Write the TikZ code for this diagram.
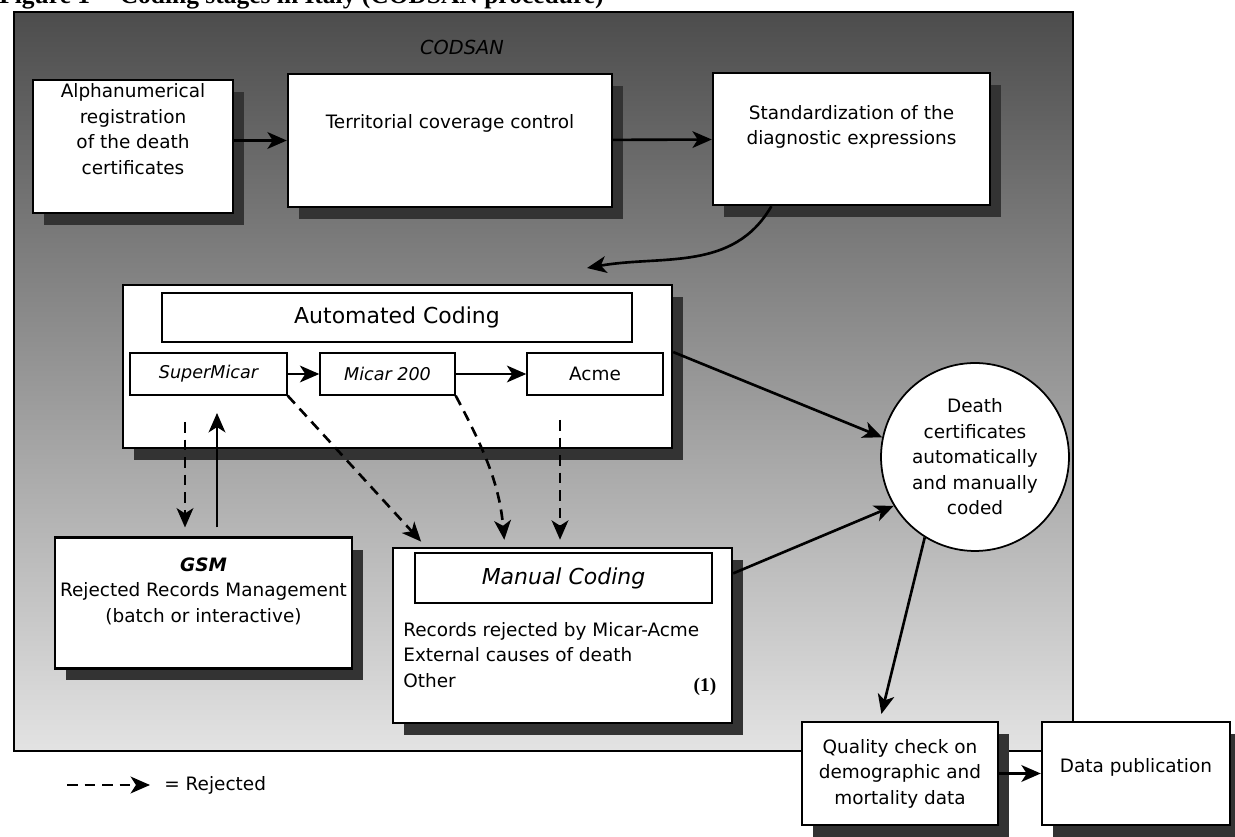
\documentclass[tikz,border=0pt]{standalone}
\usepackage{fontspec}
\setmainfont{DejaVu Sans}
\newfontfamily\capfont{Liberation Serif}
\usetikzlibrary{arrows.meta,shadows}

\tikzset{
  stage/.style={draw, line width=1.4pt, fill=white, align=center, inner sep=2pt,
    drop shadow={shadow xshift=0.22cm, shadow yshift=-0.24cm, fill=black!80, opacity=1}},
  banner/.style={draw, line width=1.4pt, fill=white, font=\fontsize{12.5}{15}\selectfont},
  prog/.style={draw, line width=0.8pt, fill=white, inner sep=2pt},
  flow/.style={->, line width=1.5pt},
  reject/.style={->, line width=1.5pt, dash pattern=on 6pt off 4pt},
}

\begin{document}
\begin{tikzpicture}[x=0.02cm, y=0.02cm, >={Stealth[length=11pt, width=9.5pt, inset=3pt]},
    font=\fontsize{10.5}{14.5}\selectfont]
\path[use as bounding box, fill=white] (0,0) rectangle (1235,-837);
% caption, cut by the top edge
\node[anchor=base west, inner sep=0, font=\capfont\bfseries\fontsize{14.5}{16}\selectfont] (caption) at (-1,-4)
  {Figure 1 -- Coding stages in Italy (CODSAN procedure)};

% CODSAN frame
\draw[line width=1.4pt, top color=black!70, bottom color=black!11] (14,-12) rectangle (1073,-751);
\node[font=\itshape\fontsize{11}{13}\selectfont] (codsan) at (462,-47) {CODSAN};

% first row
\node[stage, minimum width=4cm, minimum height=2.66cm, text depth=0.7cm] (alpha) at (133,-146.5)
  {Alphanumerical\\registration\\of the death\\certificates};
\node[stage, minimum width=6.48cm, minimum height=2.66cm, text depth=0.76cm] (terr) at (450,-140.5)
  {Territorial coverage control};
\node[stage, minimum width=5.54cm, minimum height=2.64cm, text depth=0.57cm] (std) at (851.5,-139)
  {Standardization of the\\diagnostic expressions};

% automated coding
\node[stage, minimum width=10.98cm, minimum height=3.26cm] (auto) at (397.5,-366.5) {};
\node[banner, minimum width=9.4cm, minimum height=0.98cm] (autotitle) at (397,-317.5) {Automated Coding};
\node[prog, minimum width=3.14cm, minimum height=0.84cm, font=\itshape] (smicar) at (208.5,-374) {SuperMicar};
\node[prog, minimum width=2.7cm, minimum height=0.84cm, font=\itshape] (micar) at (387.5,-374) {Micar 200};
\node[prog, minimum width=2.72cm, minimum height=0.84cm] (acme) at (595,-374) {Acme};

% rejected records and manual coding
\node[stage, minimum width=5.94cm, minimum height=2.62cm, text depth=0.53cm] (gsm) at (203.5,-603)
  {\textbf{\textit{GSM}}\\Rejected Records Management\\(batch or interactive)};
\node[stage, minimum width=6.78cm, minimum height=3.5cm] (manual) at (562.5,-635.5) {};
\node[banner, minimum width=5.94cm, minimum height=1cm, font=\itshape\fontsize{12.5}{15}\selectfont] (mantitle) at (563.5,-578) {Manual Coding};
\node[anchor=west, align=left, inner sep=0] (mantext) at (403,-655)
  {Records rejected by Micar-Acme\\External causes of death\\Other};
\node[font=\capfont\bfseries\fontsize{11}{13}\selectfont] (note) at (705,-687) {(1)};

% coded certificates and output
\node[draw, circle, fill=white, line width=1pt, minimum size=3.76cm, align=center, inner sep=0] (cert) at (975,-457)
  {Death\\certificates\\automatically\\and manually\\coded};
\node[stage, minimum width=3.92cm, minimum height=2.06cm] (quality) at (900,-773.5)
  {Quality check on\\demographic and\\mortality data};
\node[stage, minimum width=3.76cm, minimum height=2.06cm, text depth=0.33cm] (datapub) at (1136,-773.5)
  {Data publication};

\coordinate (autoin) at (587,-268);
\coordinate (gsmout) at (185,-422);
\coordinate (gsmin) at (217,-413);
\coordinate (acmeout) at (560,-420);

\draw[flow] (alpha.east |- terr) -- (terr);
\draw[flow] (terr) -- (std);
\draw[flow] (std.220) to[out=-120, in=10] (autoin);
\draw[flow] (smicar) -- (micar);
\draw[flow] (micar) -- (acme);
\draw[reject, shorten >=5pt] (gsmout) -- (gsmout |- gsm.north);
\draw[flow, shorten <=5pt] (gsm.north -| gsmin) -- (gsmin);
\draw[reject, shorten >=4pt] (smicar.south east) -- (manual.147);
\draw[reject, shorten >=4pt] (micar.south east) to[out=-62, in=95] (manual.123);
\draw[reject, shorten >=4pt] (acmeout) -- (acmeout |- manual.north);
\draw[flow] (auto.3) -- (cert.168);
\draw[flow] (manual.20) -- (cert.211);
\draw[flow, shorten >=4pt] (cert.238) -- (quality.111);
\draw[flow] (quality) -- (datapub);

% legend
\coordinate (legfrom) at (67,-785);
\node[anchor=west, inner xsep=8pt] (legend) at (150,-785) {= Rejected};
\draw[reject] (legfrom) -- (legend.west);
\end{tikzpicture}
\end{document}
